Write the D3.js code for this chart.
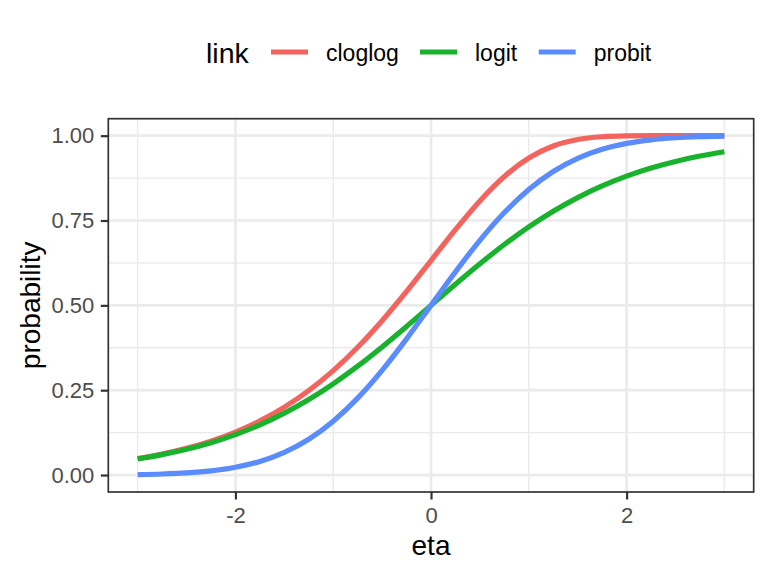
<!DOCTYPE html>
<html>
<head>
<meta charset="utf-8">
<script src="https://cdn.jsdelivr.net/npm/d3@7"></script>
<style>
  body { margin: 0; background: #fff; }
  svg { font-family: "Liberation Sans", Arial, Helvetica, sans-serif; }
</style>
</head>
<body>
<svg id="chart" width="768" height="576"></svg>
<script>
var eta = [-3, -2.75, -2.5, -2.25, -2, -1.75, -1.5, -1.25, -1, -0.75, -0.5, -0.25, 0,
           0.25, 0.5, 0.75, 1, 1.25, 1.5, 1.75, 2, 2.25, 2.5, 2.75, 3];

var cloglog = [0.0486, 0.0619, 0.0788, 0.1000, 0.1266, 0.1595, 0.2000, 0.2491, 0.3078, 0.3765, 0.4548, 0.5411, 0.6321,
               0.7231, 0.8077, 0.8796, 0.9340, 0.9695, 0.9887, 0.9968, 0.9994, 0.9999, 1.0000, 1.0000, 1.0000];
var logit = [0.0474, 0.0601, 0.0759, 0.0953, 0.1192, 0.1480, 0.1824, 0.2227, 0.2689, 0.3208, 0.3775, 0.4378, 0.5000,
             0.5622, 0.6225, 0.6792, 0.7311, 0.7773, 0.8176, 0.8520, 0.8808, 0.9047, 0.9241, 0.9399, 0.9526];
var probit = [0.0013, 0.0030, 0.0062, 0.0122, 0.0228, 0.0401, 0.0668, 0.1056, 0.1587, 0.2266, 0.3085, 0.4013, 0.5000,
              0.5987, 0.6915, 0.7734, 0.8413, 0.8944, 0.9332, 0.9599, 0.9772, 0.9878, 0.9938, 0.9970, 0.9987];

var links = ["cloglog", "logit", "probit"];
var linkColours = ["#F4645E", "#19B22D", "#5A8CFF"];
var xTicks = [-2, 0, 2];
var xMinor = [-3, -1, 1, 3];
var yTicks = [0, 0.25, 0.5, 0.75, 1];
var yMinor = [0.125, 0.375, 0.625, 0.875];

var series = { cloglog: cloglog, logit: logit, probit: probit };

var Svg = d3.select("#chart");

var color = d3.scaleOrdinal()
    .domain(links)
    .range(linkColours);

// panel box, ggplot adds 5% on each side
var x = d3.scaleLinear().domain([-3.3, 3.3]).range([108.3, 753.7]);
var y = d3.scaleLinear().domain([-0.05, 1.05]).range([492, 118.7]);

var panel = Svg.append("g");

panel.selectAll("xminor").data(xMinor).enter().append("line")
    .attr("x1", function(d){ return x(d) }).attr("x2", function(d){ return x(d) })
    .attr("y1", y.range()[0]).attr("y2", y.range()[1])
    .style("stroke", "#ebebeb").style("stroke-width", 1.4)

panel.selectAll("yminor").data(yMinor).enter().append("line")
    .attr("y1", function(d){ return y(d) }).attr("y2", function(d){ return y(d) })
    .attr("x1", x.range()[0]).attr("x2", x.range()[1])
    .style("stroke", "#ebebeb").style("stroke-width", 1.4)

panel.selectAll("xmajor").data(xTicks).enter().append("line")
    .attr("x1", function(d){ return x(d) }).attr("x2", function(d){ return x(d) })
    .attr("y1", y.range()[0]).attr("y2", y.range()[1])
    .style("stroke", "#ebebeb").style("stroke-width", 2.7)

panel.selectAll("ymajor").data(yTicks).enter().append("line")
    .attr("y1", function(d){ return y(d) }).attr("y2", function(d){ return y(d) })
    .attr("x1", x.range()[0]).attr("x2", x.range()[1])
    .style("stroke", "#ebebeb").style("stroke-width", 2.7)

var line = d3.line()
    .x(function(d){ return x(d[0]) })
    .y(function(d){ return y(d[1]) })
    .curve(d3.curveMonotoneX);

panel.selectAll("curves")
    .data(links)
    .enter()
    .append("path")
    .attr("d", function(k){ return line(d3.zip(eta, series[k])) })
    .style("fill", "none")
    .style("stroke", function(k){ return color(k) })
    .style("stroke-width", 5.2)
    .style("stroke-linecap", "butt")

panel.append("rect")
    .attr("x", x.range()[0]).attr("y", y.range()[1])
    .attr("width", x.range()[1] - x.range()[0])
    .attr("height", y.range()[0] - y.range()[1])
    .style("fill", "none").style("stroke", "#333333").style("stroke-width", 1.7)

// axes
var xAxis = Svg.append("g")
    .attr("transform", "translate(0," + y.range()[0] + ")")
    .call(d3.axisBottom(x).tickValues(xTicks).tickSize(7.5).tickPadding(8).tickFormat(d3.format("d")));

var yAxis = Svg.append("g")
    .attr("transform", "translate(" + x.range()[0] + ",0)")
    .call(d3.axisLeft(y).tickValues(yTicks).tickSize(7.5).tickPadding(6.5).tickFormat(d3.format(".2f")));

[xAxis, yAxis].forEach(function(a){
  a.select(".domain").remove();
  a.selectAll(".tick line").style("stroke", "#333333").style("stroke-width", 2.2);
  a.selectAll(".tick text").style("fill", "#4d4d4d").style("font-size", "22px")
      .style("font-family", "'Liberation Sans', Arial, Helvetica, sans-serif");
});

xAxis.selectAll(".tick text").text(function(d){ return d < 0 ? "-" + Math.abs(d) : d });

Svg.append("text")
    .attr("x", (x.range()[0] + x.range()[1]) / 2)
    .attr("y", 555)
    .attr("text-anchor", "middle")
    .style("font-size", "28px")
    .text("eta")

Svg.append("text")
    .attr("transform", "translate(40," + ((y.range()[0] + y.range()[1]) / 2) + ") rotate(-90)")
    .attr("text-anchor", "middle")
    .style("font-size", "28px")
    .text("probability")

// legend on top
var legend = Svg.append("g");
var keyX = [271, 420, 538.7];

legend.append("text")
    .attr("x", 206).attr("y", 62.5)
    .style("font-size", "28.5px")
    .text("link")

legend.selectAll("keys")
    .data(links)
    .enter()
    .append("line")
    .attr("x1", function(d,i){ return keyX[i] })
    .attr("x2", function(d,i){ return keyX[i] + 37 })
    .attr("y1", 52).attr("y2", 52)
    .style("stroke", function(d){ return color(d) })
    .style("stroke-width", 5.2)

legend.selectAll("labels")
    .data(links)
    .enter()
    .append("text")
    .attr("x", function(d,i){ return keyX[i] + 55 })
    .attr("y", 60.5)
    .style("font-size", "23px")
    .text(function(d){ return d })
</script>
</body>
</html>
